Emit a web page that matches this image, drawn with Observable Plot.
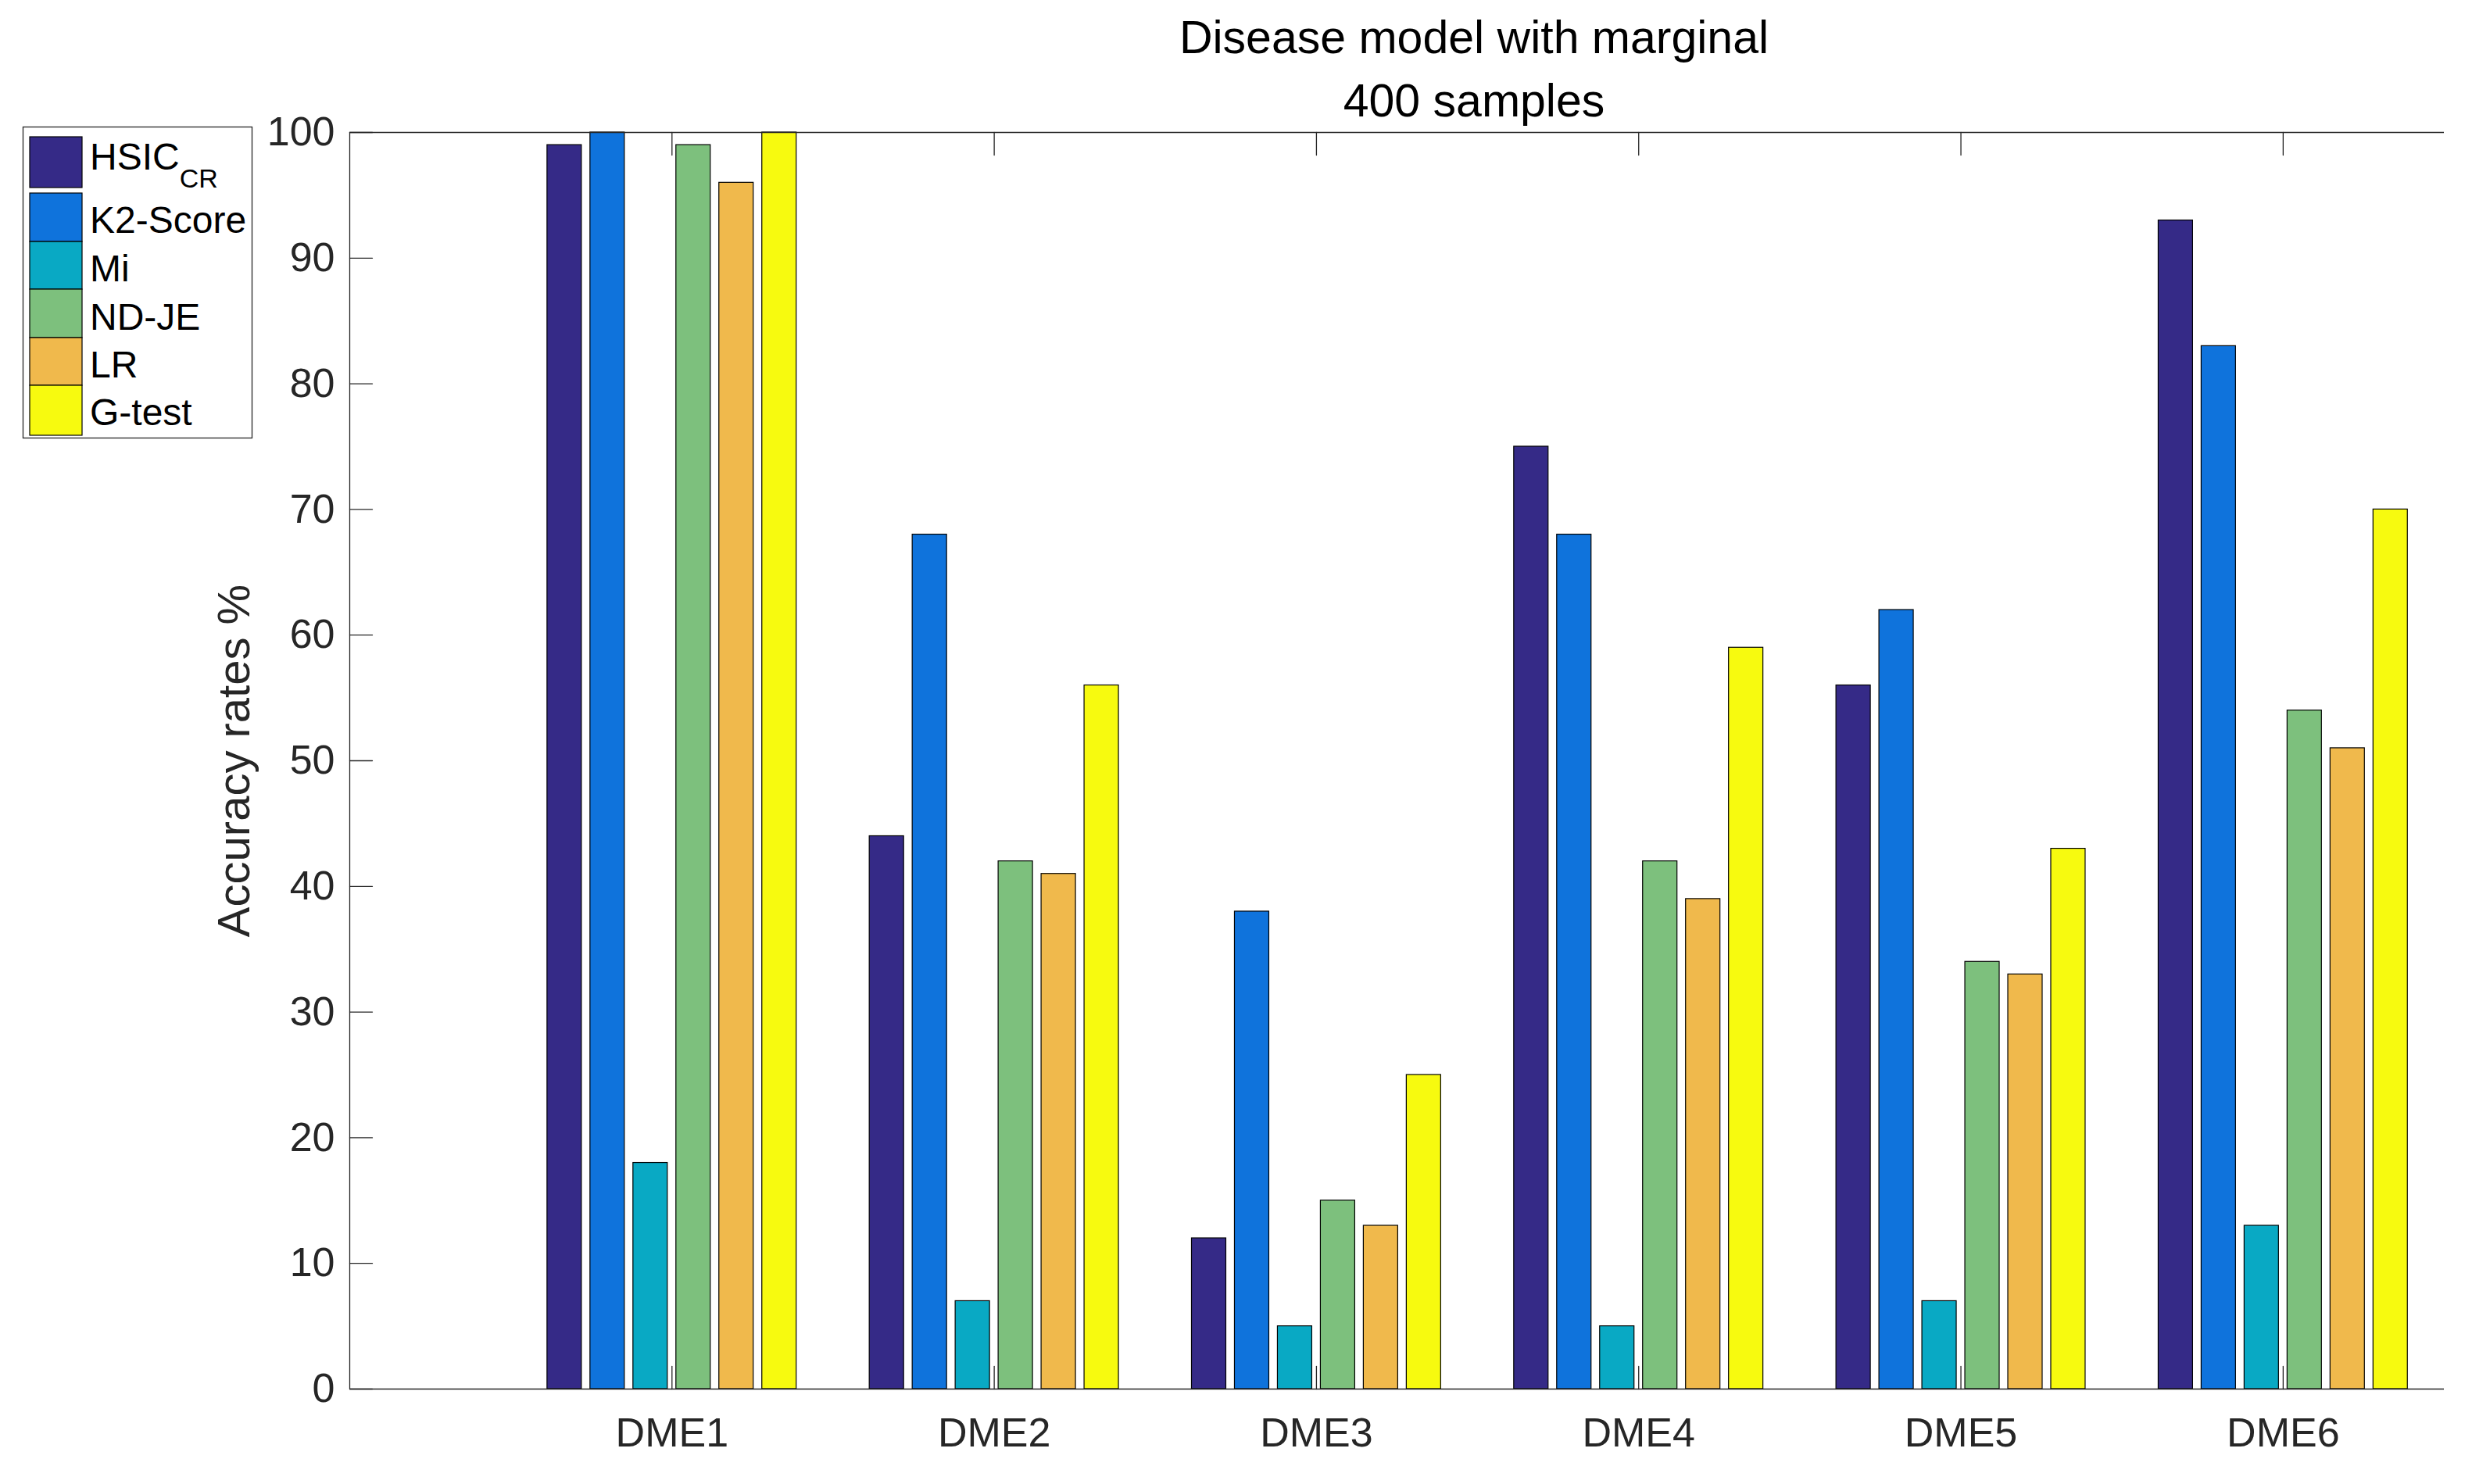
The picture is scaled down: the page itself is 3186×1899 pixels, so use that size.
<!DOCTYPE html>
<html>
<head>
<meta charset="utf-8">
<script src="https://cdn.jsdelivr.net/npm/d3@7"></script>
<script src="https://cdn.jsdelivr.net/npm/@observablehq/plot@0.6"></script>
<style>
  html, body { margin: 0; padding: 0; background: #fff; }
  #wrap { position: relative; width: 3186px; height: 1899px; }
  #wrap > svg { position: absolute; left: 0; top: 0; }
  text { font-family: "Liberation Sans", Arial, Helvetica, sans-serif; }
</style>
</head>
<body>
<div id="wrap"></div>
<script>
// ---- data ----
const categories = ["DME1", "DME2", "DME3", "DME4", "DME5", "DME6"];
const seriesNames = ["HSIC_CR", "K2-Score", "Mi", "ND-JE", "LR", "G-test"];
const seriesColors = ["#352a87", "#0f73dc", "#09a9c4", "#7dc07d", "#f0b94c", "#f7fa0f"];
const HSIC_CR = [99, 44, 12, 75, 56, 93];
const K2Score = [100, 68, 38, 68, 62, 83];
const Mi      = [18, 7, 5, 5, 7, 13];
const NDJE    = [99, 42, 15, 42, 34, 54];
const LR      = [96, 41, 13, 39, 33, 51];
const Gtest   = [100, 56, 25, 59, 43, 70];
const yTicks = [0, 10, 20, 30, 40, 50, 60, 70, 80, 90, 100];
const titleLines = ["Disease model with marginal", "400 samples"];
const yLabel = "Accuracy rates %";

const seriesValues = [HSIC_CR, K2Score, Mi, NDJE, LR, Gtest];
const nS = seriesNames.length;
const groupWidth = 0.8;
const step = groupWidth / nS;
const barW = step * 0.8;

const rows = [];
categories.forEach((c, i) => {
  seriesValues.forEach((vals, j) => {
    const center = (i + 1) + (j - (nS - 1) / 2) * step;
    rows.push({category: c, series: seriesNames[j], value: vals[i], x1: center - barW / 2, x2: center + barW / 2});
  });
});
const catPos = categories.map((c, i) => ({category: c, pos: i + 1}));

const ink = "#262626";
const tickShape = {draw(context, l) { context.moveTo(0, 0); context.lineTo(0, -l); }};

const W = 3186, H = 1899;
const chart = Plot.plot({
  width: W,
  height: H,
  marginLeft: 447,
  marginTop: 169,
  marginRight: 59,
  marginBottom: 122,
  style: {fontFamily: "'Liberation Sans', Arial, sans-serif", color: ink, background: "#fff"},
  x: {type: "linear", domain: [0, 6.5], axis: null},
  y: {domain: [0, 100], axis: null},
  color: {domain: seriesNames, range: seriesColors},
  marks: [
    // inward ticks
    Plot.vector(yTicks, {y: d => d, frameAnchor: "left", length: 29, rotate: 90, anchor: "start", shape: tickShape, stroke: ink, strokeWidth: 1.3}),
    Plot.vector(catPos, {x: "pos", frameAnchor: "top", length: 29, rotate: 180, anchor: "start", shape: tickShape, stroke: ink, strokeWidth: 1.3}),
    Plot.vector(catPos, {x: "pos", frameAnchor: "bottom", length: 29, rotate: 0, anchor: "start", shape: tickShape, stroke: ink, strokeWidth: 1.3}),
    // bars
    Plot.rectY(rows, {x1: "x1", x2: "x2", y1: 0, y2: "value", fill: "series", stroke: "#000", strokeWidth: 1.2}),
    // frame (top, left, bottom)
    Plot.ruleY([0, 100], {stroke: ink, strokeWidth: 1.3}),
    Plot.ruleX([0], {stroke: ink, strokeWidth: 1.3}),
    // y tick labels
    Plot.text(yTicks, {y: d => d, text: d => String(d), frameAnchor: "left", textAnchor: "end", dx: -19, fontSize: 52, fill: ink}),
    // x tick labels
    Plot.text(catPos, {x: "pos", text: "category", frameAnchor: "bottom", lineAnchor: "bottom", dy: 73, fontSize: 52, fill: ink}),
    // y label
    Plot.text([yLabel], {frameAnchor: "left", dx: -129, rotate: -90, textAnchor: "middle", lineAnchor: "bottom", fontSize: 58, fill: ink})
  ]
});
document.getElementById("wrap").appendChild(chart);

// ---- overlay: title + legend ----
const ov = d3.select("#wrap").append("svg")
  .attr("width", W).attr("height", H)
  .style("pointer-events", "none");

ov.selectAll("text.title").data(titleLines).join("text")
  .attr("class", "title")
  .attr("x", 1886)
  .attr("y", (d, i) => i === 0 ? 68 : 149)
  .attr("text-anchor", "middle")
  .attr("font-size", 59)
  .attr("fill", "#000")
  .text(d => d);

const lg = ov.append("g");
lg.append("rect").attr("x", 29.5).attr("y", 162.5).attr("width", 293).attr("height", 398)
  .attr("fill", "#fff").attr("stroke", ink).attr("stroke-width", 1.3);
const swTop = [175, 247, 309, 370, 432, 493];
const swBot = [240, 309, 370, 432, 493, 557];
const baselines = [217, 298, 360, 422, 483, 544];
seriesNames.forEach((s, j) => {
  lg.append("rect").attr("x", 38).attr("y", swTop[j]).attr("width", 67).attr("height", swBot[j] - swTop[j])
    .attr("fill", seriesColors[j]).attr("stroke", "#000").attr("stroke-width", 1.2);
  const t = lg.append("text").attr("x", 115).attr("y", baselines[j]).attr("font-size", 48).attr("fill", "#000");
  if (s.includes("_")) {
    const [base, sub] = s.split("_");
    t.append("tspan").text(base);
    t.append("tspan").attr("dy", 23).attr("font-size", 34).text(sub);
  } else {
    t.text(s);
  }
});
</script>
</body>
</html>
